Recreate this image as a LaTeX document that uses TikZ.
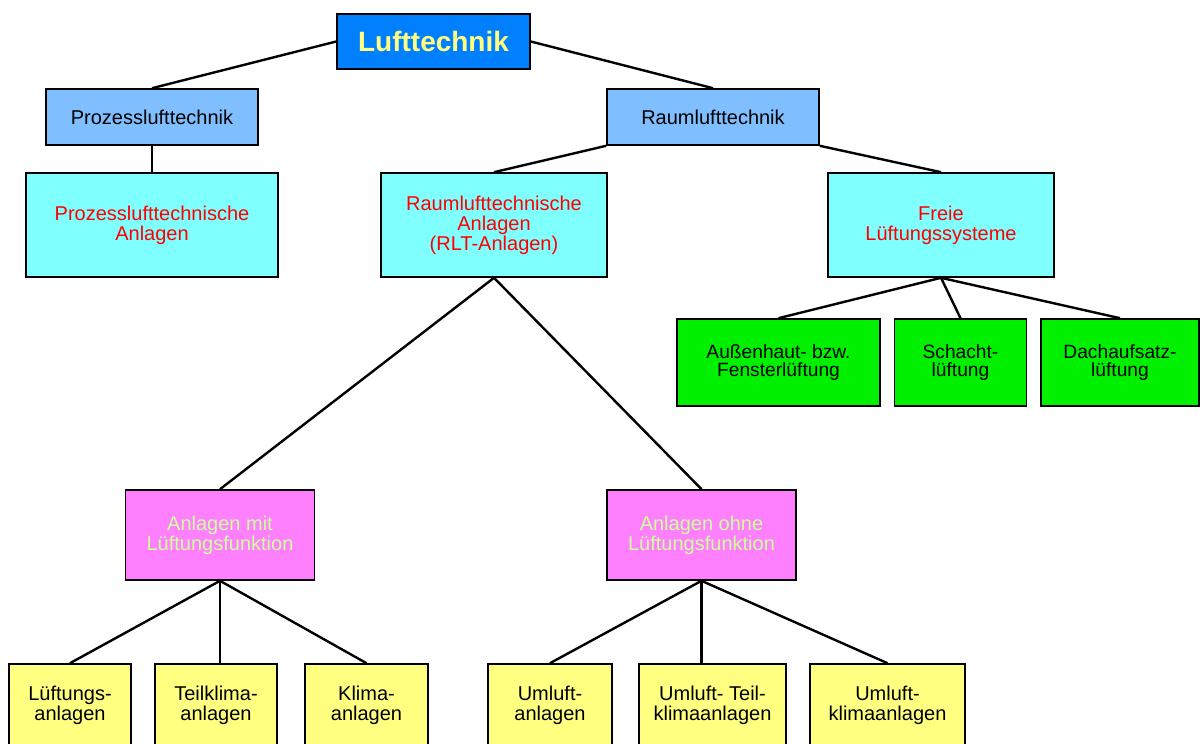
\documentclass[tikz,border=0pt]{standalone}
\usepackage{fontspec}
\setmainfont{Liberation Sans}

\definecolor{topblue}{HTML}{0080FF}
\definecolor{topyellow}{HTML}{FFFF80}
\definecolor{midblue}{HTML}{80BFFF}
\definecolor{lightcyan}{HTML}{80FFFF}
\definecolor{brightgreen}{HTML}{00F000}
\definecolor{pinkish}{HTML}{FF80FF}
\definecolor{palegreen}{HTML}{CCFF99}
\definecolor{paleyellow}{HTML}{FFFF80}

\begin{document}
\begin{tikzpicture}
[
	x=0.5pt,y=-0.5pt,
	box/.style={draw,line width=0.8pt,align=center,inner sep=0pt,font=\fontsize{10}{10}\selectfont},
	mainbox/.style={box,fill=topblue,text=topyellow,font=\fontsize{14}{14}\selectfont\bfseries,minimum width=96.5pt,minimum height=27.5pt},
	areabox/.style={box,fill=midblue,minimum width=106pt,minimum height=28pt},
	groupbox/.style={box,fill=lightcyan,text=red,minimum height=52pt},
	freebox/.style={box,fill=brightgreen,font=\fontsize{9.6}{8.8}\selectfont,minimum height=43.5pt},
	kindbox/.style={box,fill=pinkish,text=palegreen,minimum width=94.5pt,minimum height=45pt},
	leafbox/.style={box,fill=paleyellow,minimum height=41.5pt},
	link/.style={line width=1.2pt}
]

	\useasboundingbox (0,0) rectangle (1200,744);

	% top levels
	\node[mainbox] (luft) at (433.5,41.5) {Lufttechnik};
	\node[areabox] (prozess) at (152,117) {Prozesslufttechnik};
	\node[areabox] (raum) at (713,117) {Raumlufttechnik};

	\node[groupbox,minimum width=126pt] (prozanl) at (152,225) {Prozesslufttechnische\\Anlagen};
	\node[groupbox,minimum width=113pt] (rlt) at (494,225) {Raumlufttechnische\\Anlagen\\(RLT-Anlagen)};
	\node[groupbox,minimum width=113pt] (freie) at (941,225) {Freie\\Lüftungssysteme};

	% freie Lueftung
	\node[freebox,minimum width=101.5pt] (aussen) at (778.5,362.5) {Außenhaut- bzw.\\Fensterlüftung};
	\node[freebox,minimum width=66pt] (schacht) at (960.5,362.5) {Schacht-\\lüftung};
	\node[freebox,minimum width=79pt] (dach) at (1120,362.5) {Dachaufsatz-\\lüftung};

	% RLT-Anlagen
	\node[kindbox] (mit) at (220,535) {Anlagen mit\\Lüftungsfunktion};
	\node[kindbox] (ohne) at (701.5,535) {Anlagen ohne\\Lüftungsfunktion};

	\node[leafbox,minimum width=61pt] (lueft) at (70,705.5) {Lüftungs-\\anlagen};
	\node[leafbox,minimum width=61pt] (teil) at (216,705.5) {Teilklima-\\anlagen};
	\node[leafbox,minimum width=61.5pt] (klima) at (366.5,705.5) {Klima-\\anlagen};
	\node[leafbox,minimum width=62pt] (umluft) at (550,705.5) {Umluft-\\anlagen};
	\node[leafbox,minimum width=73.5pt] (umteil) at (712.5,705.5) {Umluft- Teil-\\klimaanlagen};
	\node[leafbox,minimum width=77.5pt] (umklima) at (887.5,705.5) {Umluft-\\klimaanlagen};

	% connectors
	\draw[link] (luft.west) -- (prozess.north);
	\draw[link] (luft.east) -- (raum.north);
	\draw[link] (prozess.south) -- (prozanl.north);
	\draw[link] (raum.south west) -- (rlt.north);
	\draw[link] (raum.south east) -- (freie.north);

	\draw[link] (freie.south) -- (aussen.north);
	\draw[link] (freie.south) -- (schacht.north);
	\draw[link] (freie.south) -- (dach.north);

	\draw[link] (rlt.south) -- (mit.north);
	\draw[link] (rlt.south) -- (ohne.north);

	\draw[link] (mit.south) -- (lueft.north);
	\draw[link] (mit.south) -- (mit.south |- teil.north);
	\draw[link] (mit.south) -- (klima.north);
	\draw[link] (ohne.south) -- (umluft.north);
	\draw[link] (ohne.south) -- (ohne.south |- umteil.north);
	\draw[link] (ohne.south) -- (umklima.north);

\end{tikzpicture}
\end{document}
